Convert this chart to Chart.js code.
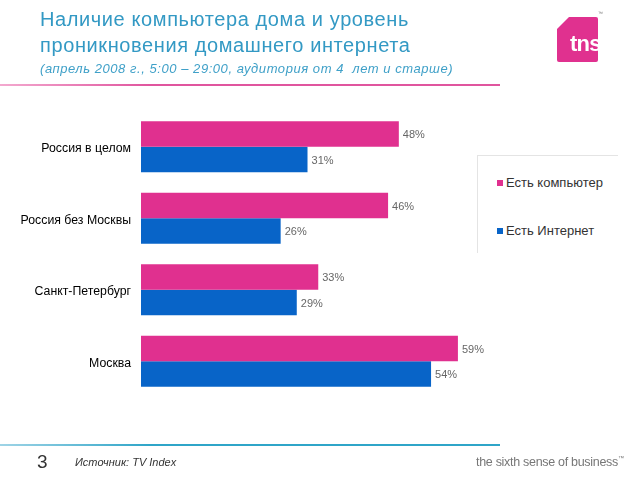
<!DOCTYPE html>
<html><head><meta charset="utf-8">
<script src="https://cdn.jsdelivr.net/npm/chart.js@4"></script>
<style>
html,body{margin:0;padding:0;background:#fff;}
#wrap{position:relative;width:640px;height:480px;overflow:hidden;font-family:"Liberation Sans",Arial,sans-serif;}
#c{position:absolute;left:0;top:0;}
.t{position:absolute;white-space:nowrap;}
#title{left:40px;top:6px;font-size:20px;line-height:26px;color:#3399c4;letter-spacing:0.6px;}
#sub{left:40px;top:61px;font-size:13px;font-style:italic;color:#3fa0c8;letter-spacing:0.55px;}
#line1{position:absolute;left:0;top:84px;width:500px;height:2px;background:linear-gradient(to right,#f3a9cf,#e0559e 30%,#e0559e);}
#line2{position:absolute;left:0;top:444px;width:500px;height:2px;background:linear-gradient(to right,#9fd4e6,#2fa5c8 30%,#2fa5c8);}
#num{left:37px;top:451px;font-size:19px;color:#333;}
#src{left:75px;top:456px;font-size:11px;font-style:italic;color:#333;}
#tag{left:476px;top:455px;font-size:12.5px;color:#777;letter-spacing:-0.3px;}
#tag sup{font-size:6px;vertical-align:top;}
#logo{position:absolute;left:557px;top:17px;width:41px;height:45px;background:#e0318f;clip-path:polygon(12px 0,41px 0,41px 45px,0 45px,0 12px);overflow:hidden;border-radius:2px;}
#logo span{position:absolute;left:13px;top:14px;font-size:22px;font-weight:bold;color:#fff;letter-spacing:-0.8px;}
#tm{left:598px;top:10px;font-size:5px;color:#777;}
#legend{position:absolute;left:477px;top:155px;width:140px;height:97px;background:#fff;border-left:1px solid #e4e4e4;border-top:1px solid #e4e4e4;font-size:13px;color:#333;}
.li{position:absolute;left:19px;}
.sw{display:inline-block;width:6px;height:6px;margin-right:3px;vertical-align:1px;}
</style></head>
<body><div id="wrap">
<canvas id="c" width="640" height="480"></canvas>
<div id="title" class="t">Наличие компьютера дома и уровень<br>проникновения домашнего интернета</div>
<div id="sub" class="t">(апрель 2008 г., 5:00 – 29:00, аудитория от 4&nbsp; лет и старше)</div>
<div id="line1"></div>
<div id="logo"><span>tns</span></div>
<div id="tm" class="t">™</div>
<div id="legend"></div>
<div id="line2"></div>
<div id="num" class="t">3</div>
<div id="src" class="t">Источник: TV Index</div>
<div id="tag" class="t">the sixth sense of business<sup>™</sup></div>
</div>
<script>
const categories = ["Россия в целом", "Россия без Москвы", "Санкт-Петербург", "Москва"];
const seriesNames = ["Есть компьютер", "Есть Интернет"];
const computerValues = [48, 46, 33, 59];
const internetValues = [31, 26, 29, 54];
const seriesColors = ["#e0308f", "#0864c8"];

// HTML legend
const legend = document.getElementById('legend');
seriesNames.forEach((n, i) => {
  const d = document.createElement('div');
  d.className = 'li';
  d.style.top = (i === 0 ? 19 : 67) + 'px';
  d.innerHTML = '<span class="sw" style="background:' + seriesColors[i] + '"></span>' + n;
  legend.appendChild(d);
});

const valueLabels = {
  id: 'valueLabels',
  afterDatasetsDraw(chart) {
    const ctx = chart.ctx;
    ctx.save();
    ctx.font = '11px "Liberation Sans", Arial, sans-serif';
    ctx.fillStyle = '#666';
    ctx.textAlign = 'left';
    ctx.textBaseline = 'middle';
    chart.data.datasets.forEach((ds, di) => {
      chart.getDatasetMeta(di).data.forEach((bar, i) => {
        ctx.fillText(ds.data[i] + '%', bar.x + 4, bar.y + 1);
      });
    });
    ctx.restore();
  }
};

new Chart(document.getElementById('c'), {
  type: 'bar',
  data: {
    labels: categories,
    datasets: [
      { label: seriesNames[0], data: computerValues, backgroundColor: seriesColors[0] },
      { label: seriesNames[1], data: internetValues, backgroundColor: seriesColors[1] }
    ]
  },
  options: {
    indexAxis: 'y',
    responsive: false,
    animation: false,
    layout: { padding: { left: 0, top: 111, right: 123, bottom: 83 } },
    categoryPercentage: 0.715,
    barPercentage: 1.0,
    plugins: { legend: { display: false }, tooltip: { enabled: false } },
    scales: {
      x: { display: false, min: 0, max: 70 },
      y: {
        grid: { display: false },
        border: { display: false },
        afterFit(scale) { scale.width = 141; },
        ticks: { padding: 2, labelOffset: 2, color: '#000', font: { family: '"Liberation Sans", Arial, sans-serif', size: 12.3 } }
      }
    }
  },
  plugins: [valueLabels]
});
</script>
</body></html>
